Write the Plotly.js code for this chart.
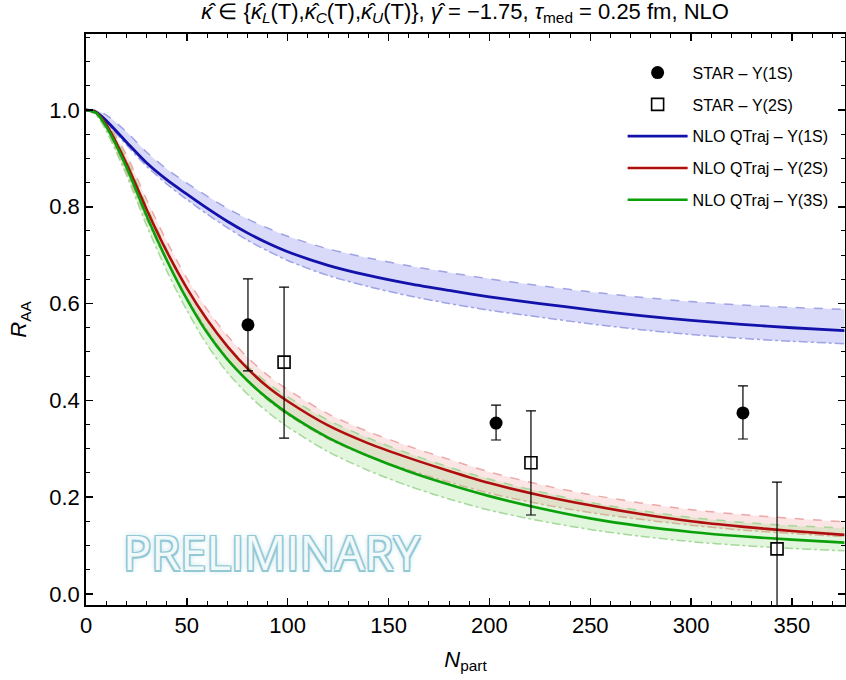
<!DOCTYPE html>
<html>
<head>
<meta charset="utf-8">
<script src="https://cdn.plot.ly/plotly-3.0.1.min.js"></script>
<style>html,body{margin:0;padding:0;background:#fff;}</style>
</head>
<body>
<div id="chart" style="width:846px;height:680px;"></div>
<script>
// ---- Data ----
const npart = [0, 5, 10, 20, 30, 40, 50, 60, 70, 80, 90, 100, 120, 140, 160, 180, 200, 225, 250, 275, 300, 325, 350, 376];

const y1sCentral = [1.0, 0.996, 0.978, 0.934, 0.891, 0.856, 0.826, 0.797, 0.770, 0.746, 0.725, 0.707, 0.679, 0.658, 0.641, 0.627, 0.614, 0.600, 0.587, 0.575, 0.565, 0.557, 0.550, 0.544];
const y1sUpper   = [1.0, 0.999, 0.990, 0.955, 0.913, 0.878, 0.849, 0.822, 0.797, 0.775, 0.756, 0.739, 0.713, 0.694, 0.678, 0.664, 0.651, 0.637, 0.624, 0.613, 0.604, 0.597, 0.592, 0.588];
const y1sLower   = [1.0, 0.994, 0.974, 0.928, 0.884, 0.847, 0.815, 0.785, 0.757, 0.731, 0.709, 0.689, 0.658, 0.635, 0.616, 0.600, 0.586, 0.572, 0.558, 0.546, 0.536, 0.528, 0.522, 0.517];

const y2sCentral = [1.0, 0.995, 0.970, 0.890, 0.795, 0.708, 0.632, 0.567, 0.512, 0.466, 0.428, 0.398, 0.348, 0.311, 0.281, 0.254, 0.229, 0.204, 0.183, 0.165, 0.150, 0.139, 0.130, 0.122];
const y2sUpper   = [1.0, 0.999, 0.977, 0.908, 0.815, 0.729, 0.652, 0.588, 0.534, 0.489, 0.452, 0.422, 0.372, 0.335, 0.305, 0.278, 0.252, 0.226, 0.205, 0.188, 0.174, 0.164, 0.156, 0.149];
const y2sLower   = [1.0, 0.990, 0.960, 0.872, 0.775, 0.688, 0.612, 0.545, 0.487, 0.440, 0.401, 0.370, 0.320, 0.284, 0.256, 0.231, 0.208, 0.186, 0.168, 0.154, 0.142, 0.132, 0.125, 0.118];

const y3sCentral = [1.0, 0.994, 0.966, 0.882, 0.782, 0.690, 0.609, 0.540, 0.485, 0.441, 0.404, 0.373, 0.323, 0.285, 0.253, 0.226, 0.202, 0.177, 0.156, 0.140, 0.128, 0.119, 0.112, 0.106];
const y3sUpper   = [1.0, 0.999, 0.975, 0.900, 0.802, 0.712, 0.633, 0.566, 0.513, 0.471, 0.436, 0.407, 0.359, 0.322, 0.290, 0.262, 0.237, 0.211, 0.189, 0.172, 0.158, 0.148, 0.141, 0.136];
const y3sLower   = [1.0, 0.990, 0.957, 0.866, 0.762, 0.668, 0.586, 0.515, 0.458, 0.413, 0.376, 0.345, 0.294, 0.255, 0.223, 0.196, 0.173, 0.151, 0.133, 0.119, 0.108, 0.100, 0.094, 0.089];

const star1sX = [80.3, 203.3, 325.7];
const star1sY = [0.556, 0.353, 0.374];
const star1sErrUp = [0.095, 0.037, 0.056];
const star1sErrDn = [0.095, 0.035, 0.054];

const star2sX = [98.2, 220.6, 342.6];
const star2sY = [0.479, 0.271, 0.093];
const star2sErrUp = [0.155, 0.107, 0.138];
const star2sErrDn = [0.157, 0.108, 0.160];

const xTicks = [0, 50, 100, 150, 200, 250, 300, 350];
const yTicks = [0.0, 0.2, 0.4, 0.6, 0.8, 1.0];

// ---- Traces ----
function band(upper, lower, fill, edge, dashU, dashL) {
  return [
    {x: npart, y: upper, mode: 'lines', line: {color: edge, width: 1.5, dash: dashU, shape: 'spline', smoothing: 0.8}, showlegend: false, hoverinfo: 'skip'},
    {x: npart, y: lower, mode: 'lines', fill: 'tonexty', fillcolor: fill, line: {color: edge, width: 1.5, dash: dashL, shape: 'spline', smoothing: 0.8}, showlegend: false, hoverinfo: 'skip'}
  ];
}

const traces = [];
traces.push(...band(y1sUpper, y1sLower, 'rgba(170,170,245,0.45)', 'rgba(150,155,225,0.9)', 'dash', 'dashdot'));
traces.push(...band(y2sUpper, y2sLower, 'rgba(245,160,160,0.28)', 'rgba(235,160,160,0.9)', 'dash', 'dashdot'));
traces.push(...band(y3sUpper, y3sLower, 'rgba(140,215,120,0.25)', 'rgba(160,215,150,0.95)', 'dash', 'dashdot'));

traces.push({x: npart, y: y1sCentral, mode: 'lines', name: 'NLO QTraj – Υ(1S)', line: {color: '#1212aa', width: 2.8, shape: 'spline', smoothing: 0.8}, legendrank: 3, legendgroup: 'c'});
traces.push({x: npart, y: y2sCentral, mode: 'lines', name: 'NLO QTraj – Υ(2S)', line: {color: '#b00d0d', width: 2.6, shape: 'spline', smoothing: 0.8}, legendrank: 4, legendgroup: 'd'});
traces.push({x: npart, y: y3sCentral, mode: 'lines', name: 'NLO QTraj – Υ(3S)', line: {color: '#0aa00a', width: 2.6, shape: 'spline', smoothing: 0.8}, legendrank: 5, legendgroup: 'e'});

traces.push({
  x: star1sX, y: star1sY, mode: 'markers', name: 'STAR – Υ(1S)',
  marker: {symbol: 'circle', size: 13, color: '#000'},
  error_y: {type: 'data', symmetric: false, array: star1sErrUp, arrayminus: star1sErrDn, color: '#000', thickness: 1.2, width: 5},
  legendrank: 1, legendgroup: 'a'
});
traces.push({
  x: star2sX, y: star2sY, mode: 'markers', showlegend: false, hoverinfo: 'skip',
  marker: {symbol: 'square', size: 12, color: '#fff'}
});
traces.push({
  x: star2sX, y: star2sY, mode: 'markers', name: 'STAR – Υ(2S)',
  marker: {symbol: 'square-open', size: 12, color: '#000', line: {width: 1.6}},
  error_y: {type: 'data', symmetric: false, array: star2sErrUp, arrayminus: star2sErrDn, color: '#000', thickness: 1.2, width: 5},
  legendrank: 2, legendgroup: 'b'
});

const font = 'Liberation Sans, Arial, sans-serif';

const layout = {
  width: 846, height: 680,
  margin: {l: 86, r: 1, t: 34, b: 75},
  paper_bgcolor: '#fff', plot_bgcolor: '#fff',
  font: {family: font, color: '#000'},
  title: {
    text: '<i>κ̂</i> ∈ {<i>κ̂</i><sub><i>L</i></sub>(T),<i>κ̂</i><sub><i>C</i></sub>(T),<i>κ̂</i><sub><i>U</i></sub>(T)}, <i>γ̂</i> = −1.75, <i>τ</i><sub>med</sub> = 0.25 fm, NLO',
    font: {family: font, size: 22, color: '#000'},
    xref: 'container', x: 0.238, xanchor: 'left', y: 0.995, yanchor: 'top'
  },
  xaxis: {
    range: [0, 376.3],
    tickvals: xTicks, ticktext: xTicks.map(String),
    ticks: 'inside', ticklen: 7, tickwidth: 1.5, tickcolor: '#000',
    minor: {dtick: 10, tick0: 0, ticks: 'inside', ticklen: 4, tickwidth: 1, tickcolor: '#000'},
    showline: true, linecolor: '#000', linewidth: 1.8, mirror: 'ticks',
    showgrid: false, zeroline: false,
    tickfont: {family: font, size: 22},
    title: {text: '<i>N</i><sub>part</sub>', font: {family: font, size: 22}, standoff: 14}
  },
  yaxis: {
    range: [-0.023, 1.157],
    tickvals: yTicks, ticktext: yTicks.map(v => v.toFixed(1)),
    ticks: 'inside', ticklen: 7, tickwidth: 1.5, tickcolor: '#000',
    minor: {dtick: 0.05, tick0: 0, ticks: 'inside', ticklen: 4, tickwidth: 1, tickcolor: '#000'},
    showline: true, linecolor: '#000', linewidth: 1.8, mirror: 'ticks',
    showgrid: false, zeroline: false,
    tickfont: {family: font, size: 22},
    title: {text: '<i>R</i><sub>AA</sub>', font: {family: font, size: 22}, standoff: 16}
  },
  legend: {
    x: 0.985, xanchor: 'right', y: 0.962, yanchor: 'top',
    bgcolor: 'rgba(0,0,0,0)', borderwidth: 0,
    font: {family: font, size: 16, color: '#000'},
    tracegroupgap: 8, itemwidth: 60
  },
  annotations: [{
    x: 92, y: 0.087, xref: 'x', yref: 'y',
    text: 'PRELIMINARY', showarrow: false,
    font: {family: 'Open Sans, sans-serif', size: 47, color: '#f1f9fb',
      shadow: '-1.5px -1.5px 0 #93c8d5, 1.5px -1.5px 0 #93c8d5, -1.5px 1.5px 0 #93c8d5, 1.5px 1.5px 0 #93c8d5, 0 0 6px #a9d6e1'}
  }]
};

Plotly.newPlot('chart', traces, layout, {displayModeBar: false, staticPlot: true});
</script>
</body>
</html>
